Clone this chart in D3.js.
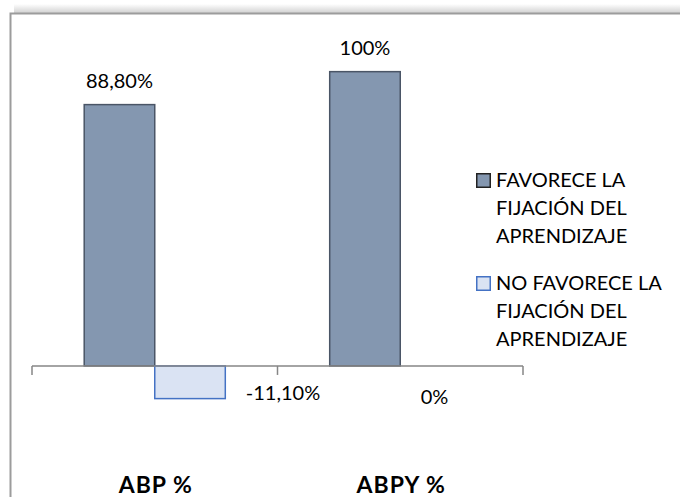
<!DOCTYPE html>
<html>
<head>
<meta charset="utf-8">
<script src="https://cdn.jsdelivr.net/npm/d3@7/dist/d3.min.js"></script>
<style>
  html, body { margin: 0; padding: 0; background: #fff; }
  svg { display: block; }
  text { font-family: Lato, "Open Sans", sans-serif; fill: #000; }
</style>
</head>
<body>
<svg id="chart" width="680" height="497"></svg>
<script>
// Categories and series
const categories = ["ABP %", "ABPY %"];
const seriesNames = [
  ["FAVORECE LA", "FIJACIÓN DEL", "APRENDIZAJE"],
  ["NO FAVORECE LA", "FIJACIÓN DEL", "APRENDIZAJE"]
];
const favorece = [88.8, 100];
const noFavorece = [-11.1, 0];
const yDomain = [-20, 120];

const W = 680, H = 497;
const svg = d3.select("#chart");

// Chart frame with a soft shadow along the top edge
const defs = svg.append("defs");
const grad = defs.append("linearGradient")
  .attr("id", "topShade").attr("x1", 0).attr("y1", 0).attr("x2", 0).attr("y2", 1);
grad.append("stop").attr("offset", "0%").attr("stop-color", "#000").attr("stop-opacity", 0);
grad.append("stop").attr("offset", "100%").attr("stop-color", "#000").attr("stop-opacity", 0.18);
svg.append("rect").attr("x", 14).attr("y", 4).attr("width", W - 14).attr("height", 9)
  .attr("fill", "url(#topShade)");
svg.append("path")
  .attr("d", `M10.5,${H + 2} V13.5 H${W + 2}`)
  .attr("fill", "none").attr("stroke", "#9c9c9c").attr("stroke-width", 2);

// Scales
const x0 = d3.scaleBand().domain(categories).range([32, 523]).paddingInner(0).paddingOuter(0);
const x1 = d3.scaleBand().domain([0, 1]).range([0, x0.bandwidth()]).paddingInner(0).paddingOuter(0.74);
const y = d3.scaleLinear().domain(yDomain).range([424.8, 12.8]);

const fmt = v => Number.isInteger(v) ? v + "%" : v.toFixed(2).replace(".", ",") + "%";

const seriesStyle = [
  { fill: "#8497B0", stroke: "#4a5566" },
  { fill: "#DAE3F3", stroke: "#4472C4" }
];
const seriesData = [favorece, noFavorece];

// Bars
seriesData.forEach((vals, s) => {
  svg.append("g").selectAll("rect").data(vals).join("rect")
    .attr("x", (d, i) => x0(categories[i]) + x1(s))
    .attr("y", d => y(Math.max(0, d)))
    .attr("width", x1.bandwidth())
    .attr("height", d => Math.abs(y(d) - y(0)))
    .attr("fill", seriesStyle[s].fill)
    .attr("stroke", seriesStyle[s].stroke)
    .attr("stroke-width", 1.5);
});

// Category axis through zero
const axG = svg.append("g").attr("transform", `translate(0,${y(0)})`);
axG.append("line").attr("x1", 32).attr("x2", 523).attr("y1", 0).attr("y2", 0)
  .attr("stroke", "#868686").attr("stroke-width", 1.5);
const tickXs = [x0.range()[0]].concat(categories.map(c => x0(c) + x0.bandwidth()));
axG.selectAll(".tk").data(tickXs).join("line").attr("class", "tk")
  .attr("x1", d => d).attr("x2", d => d).attr("y1", 0).attr("y2", 9)
  .attr("stroke", "#868686").attr("stroke-width", 1.5);

// Category labels
svg.append("g").selectAll("text").data(categories).join("text")
  .attr("x", d => x0(d) + x0.bandwidth() / 2 + 1)
  .attr("y", 493)
  .attr("text-anchor", "middle")
  .attr("font-weight", "bold")
  .attr("font-size", 23)
  .attr("letter-spacing", 1)
  .text(d => d);

// Value labels
svg.append("g").selectAll("text").data(favorece).join("text")
  .attr("x", (d, i) => x0(categories[i]) + x1(0) + x1.bandwidth() / 2)
  .attr("y", d => y(d) - 17)
  .attr("text-anchor", "middle")
  .attr("font-size", 20)
  .text(fmt);

// Labels of the second series sit below the axis, nudged clear of the bars
const nudgeX = [93, -1];
const nudgeY = [400, 404];
svg.append("g").selectAll("text").data(noFavorece).join("text")
  .attr("x", (d, i) => x0(categories[i]) + x1(1) + x1.bandwidth() / 2 + nudgeX[i])
  .attr("y", (d, i) => nudgeY[i])
  .attr("text-anchor", "middle")
  .attr("font-size", 20)
  .text(fmt);

// Legend
const legend = svg.append("g").attr("transform", "translate(476,173)");
const items = legend.selectAll("g").data(seriesNames).join("g")
  .attr("transform", (d, i) => `translate(0,${i * 103})`);
items.append("rect")
  .attr("x", 0.75).attr("y", 0.75).attr("width", 13.5).attr("height", 13.5)
  .attr("fill", (d, i) => seriesStyle[i].fill)
  .attr("stroke", (d, i) => i === 0 ? "#222" : "#4472C4")
  .attr("stroke-width", 1.5);
items.each(function(lines) {
  d3.select(this).selectAll("text").data(lines).join("text")
    .attr("x", 20)
    .attr("y", (d, j) => 14 + j * 28)
    .attr("font-size", 20)
    .text(d => d);
});
</script>
</body>
</html>
